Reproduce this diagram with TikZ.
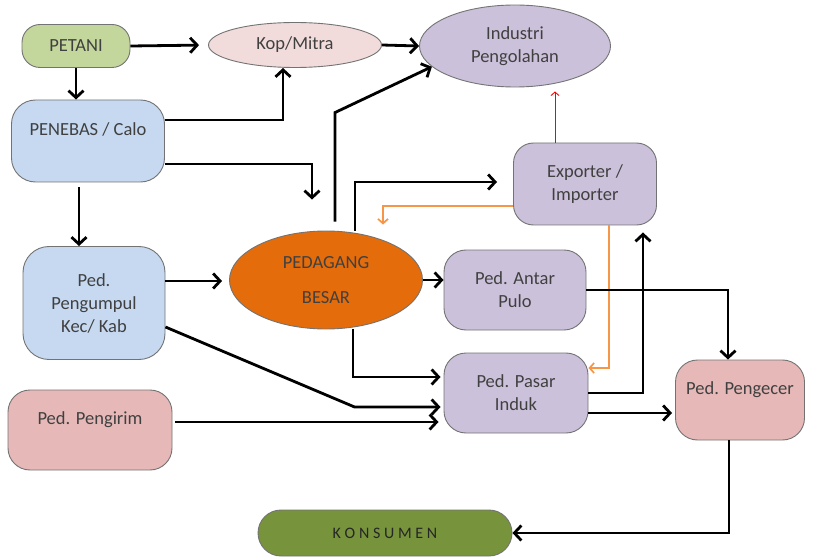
\documentclass[tikz,border=0pt]{standalone}
\usepackage{fontspec}
\setmainfont{Carlito}
\usetikzlibrary{arrows.meta,calc,shapes.geometric}

\definecolor{txt}{HTML}{404040}
\definecolor{greenbox}{HTML}{C3D69B}
\definecolor{pinklight}{HTML}{F2DCDB}
\definecolor{lavender}{HTML}{CCC1DA}
\definecolor{bluebox}{HTML}{C6D9F1}
\definecolor{orangebox}{HTML}{E46C0A}
\definecolor{pinkbox}{HTML}{E6B9B8}
\definecolor{olivebox}{HTML}{77933C}
\definecolor{orangeline}{HTML}{F79646}

\tikzset{
  box/.style={draw=black!55, line width=0.9pt, rounded corners=20pt, align=center,
    text=txt, font=\fontsize{18.5}{23}\selectfont, inner sep=2pt},
  ell/.style={box, ellipse, sharp corners},
  arr/.style={line width=2.8pt, -{Straight Barb[length=7pt,width=15pt]}},
  orangearr/.style={line width=1.7pt, draw=orangeline, -{Straight Barb[length=4.5pt,width=10pt]}},
  redarr/.style={line width=0.9pt, draw=red, -{Straight Barb[length=3.5pt,width=8pt]}}
}

\begin{document}
\begin{tikzpicture}[x=1pt,y=-1pt]
\useasboundingbox (0,0) rectangle (820,559);

% actors
\node[box, fill=greenbox, rounded corners=18pt, minimum width=108pt, minimum height=43pt] (petani) at (76,46) {PETANI};
\node[ell, fill=pinklight, minimum width=173pt, minimum height=45pt] (kop) at (295,45) {Kop/Mitra};
\node[ell, fill=lavender, minimum width=191pt, minimum height=82pt] (ind) at (515,46) {Industri\\Pengolahan};
\node[box, fill=bluebox, rounded corners=24pt, minimum width=153pt, minimum height=82pt] (penebas) at (88,141) {PENEBAS / Calo\\\mbox{}};
\node[box, fill=lavender, minimum width=143pt, minimum height=82pt] (exp) at (585,184) {Exporter /\\Importer};
\node[ell, fill=orangebox, minimum width=193pt, minimum height=98pt] (besar) at (326,280) {PEDAGANG\\[12pt]BESAR};
\node[box, fill=bluebox, rounded corners=26pt, minimum width=142pt, minimum height=113pt] (kumpul) at (94,303) {Ped.\\Pengumpul\\Kec/ Kab};
\node[box, fill=lavender, rounded corners=22pt, minimum width=142pt, minimum height=80pt] (antar) at (515,290) {Ped. Antar\\Pulo};
\node[box, fill=lavender, rounded corners=22pt, minimum width=144pt, minimum height=80pt] (pasar) at (516,393) {Ped. Pasar\\Induk};
\node[box, fill=pinkbox, rounded corners=22pt, minimum width=129pt, minimum height=80pt] (ecer) at (740,400) {Ped. Pengecer\\\mbox{}};
\node[box, fill=pinkbox, rounded corners=22pt, minimum width=164pt, minimum height=80pt] (kirim) at (90,430) {Ped. Pengirim\\\mbox{}};
\node[box, fill=olivebox, rounded corners=23pt, minimum width=254pt, minimum height=46pt, text=black!85,
  font=\fontsize{16}{20}\selectfont] (kons) at (385,533)
  {K\hspace{3.7pt}O\hspace{3.7pt}N\hspace{3.7pt}S\hspace{3.7pt}U\hspace{3.7pt}M\hspace{3.7pt}E\hspace{3.7pt}N};

% flows
\draw[arr, shorten >=9pt] (petani.east) -- (kop.west);
\draw[arr] (kop.east) -- (ind.west);
\draw[arr] (petani.south) -- (petani.south |- penebas.north);
\draw[arr] (penebas.east |- 0,120) -| ([xshift=-12pt]kop.south);
\draw[arr] (penebas.east |- 0,164) -| ([xshift=-14pt,yshift=31pt]besar.north);
\draw[arr, shorten <=5pt] ([xshift=-9pt]penebas.south) -- ([xshift=-9pt]penebas.south |- kumpul.north);
\draw[arr] ([xshift=9pt,yshift=9pt]besar.north) -- ++(0,-109) -- (ind.194);
\draw[arr, shorten >=16pt] ([xshift=29pt]besar.north) |- ([yshift=2pt]exp.west);
\draw[orangearr] ([yshift=-22pt]exp.west) -| ([xshift=57pt,yshift=6pt]besar.north);
\draw[orangearr] ([xshift=24pt]exp.south) |- ([yshift=25pt]pasar.east);
\draw[redarr, shorten >=4pt] ([xshift=-30pt]exp.north) -- ([xshift=-30pt]exp.north |- ind.south);
\draw[arr, shorten >=7pt] ([yshift=22pt]kumpul.east) -- ([yshift=22pt]kumpul.east -| besar.west);
\draw[arr] (besar.east) -- (besar.east -| antar.west);
\draw[arr, shorten >=3pt] ([xshift=27pt]besar.south) |- ([yshift=16pt]pasar.west);
\draw[arr, shorten >=3pt] ([yshift=-24pt]kumpul.east) -- ([xshift=-89pt,yshift=-14pt]pasar.west) -- ([yshift=-14pt]pasar.west);
\draw[arr, shorten >=5pt, shorten <=3pt] ([yshift=8pt]kirim.east) -- ([yshift=-29pt]pasar.west);
\draw[arr] (antar.east) -| ([xshift=-12pt]ecer.north);
\draw[arr] (pasar.east) -| ([xshift=58pt,yshift=-7pt]exp.south);
\draw[arr, shorten >=3pt] ([yshift=-20pt]pasar.east) -- ([yshift=-13pt]ecer.west);
\draw[arr] ([xshift=-11pt]ecer.south) |- (kons.east);
\end{tikzpicture}
\end{document}
